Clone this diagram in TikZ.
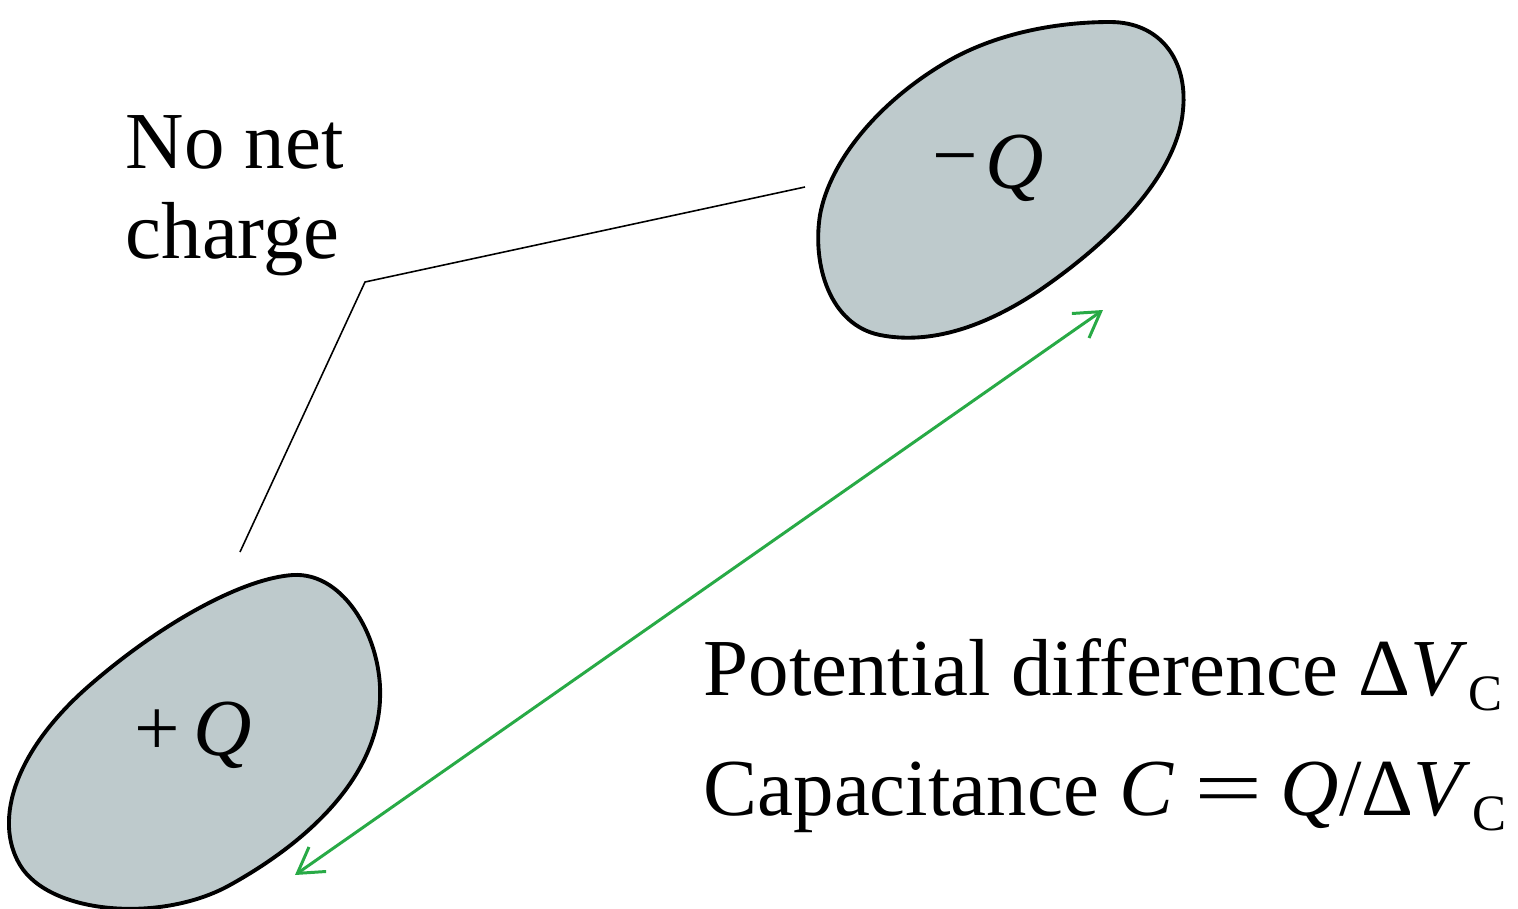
\documentclass[tikz,border=0pt]{standalone}
\usepackage{fontspec}
\usepackage{graphicx}
\setmainfont{Liberation Serif}
\usetikzlibrary{arrows.meta}
\definecolor{blobfill}{RGB}{190,202,204}
\definecolor{arrowgreen}{RGB}{40,170,70}
\tikzset{
  blob/.style={draw=black, line width=1.1pt, fill=blobfill},
  lbl/.style={inner sep=0pt, anchor=base west, font=\fontsize{23}{27}\selectfont},
  qlbl/.style={inner sep=0pt, font=\fontsize{23}{27}\selectfont},
  leader/.style={draw=black, line width=0.45pt},
  dv/.style={draw=arrowgreen, line width=0.85pt, {Straight Barb[length=7pt,width=8.5pt]}-{Straight Barb[length=7pt,width=8.5pt]}}
}
\newcommand{\Vc}{\textit{V}\kern0.3pt\raisebox{-4.5pt}{\fontsize{14.5}{16}\selectfont C}}
\begin{document}
\begin{tikzpicture}[x=0.01cm, y=-0.01cm]
\useasboundingbox (0,0) rectangle (1518,909);
% +Q blob
\draw[blob] (293,575) .. controls (345,572) and (383,640) .. (380,700)
  .. controls (377,770) and (320,835) .. (230,885)
  .. controls (162,923) and (50,915) .. (20,865)
  .. controls (-7,820) and (15,750) .. (90,685)
  .. controls (165,620) and (245,578) .. (293,575) -- cycle;
% -Q blob
\draw[blob] (1110,22) .. controls (1160,22) and (1188,60) .. (1183,110)
  .. controls (1178,170) and (1120,235) .. (1040,290)
  .. controls (985,327) and (930,345) .. (880,335)
  .. controls (830,325) and (812,265) .. (820,215)
  .. controls (830,160) and (880,100) .. (950,60)
  .. controls (1000,32) and (1060,22) .. (1110,22) -- cycle;
\node[qlbl] (pq) at (193,735) {+\,\textit{Q}};
\node[qlbl] (nq) at (988,168) {\raisebox{0.15ex}{−}\kern2pt\textit{Q}};
% labels
\node[lbl] (nonet) at (125,168) {No net};
\node[lbl] (charge) at (125,258) {charge};
\node[lbl] (pot) at (703,695) {Potential difference Δ\Vc};
\node[lbl] (cap) at (703,815) {Capacitance \textit{C}\kern6pt\scalebox{1.5}[1]{=}\kern5pt\textit{Q}/Δ\Vc};
% leader line
\coordinate (l1) at (240,552);
\coordinate (l2) at (365,282);
\coordinate (l3) at (805,187);
\draw[leader] (l1) -- (l2) -- (l3);
% potential difference arrow
\coordinate (a1) at (295,875);
\coordinate (a2) at (1103,310);
\draw[dv] (a1) -- (a2);
\end{tikzpicture}
\end{document}
